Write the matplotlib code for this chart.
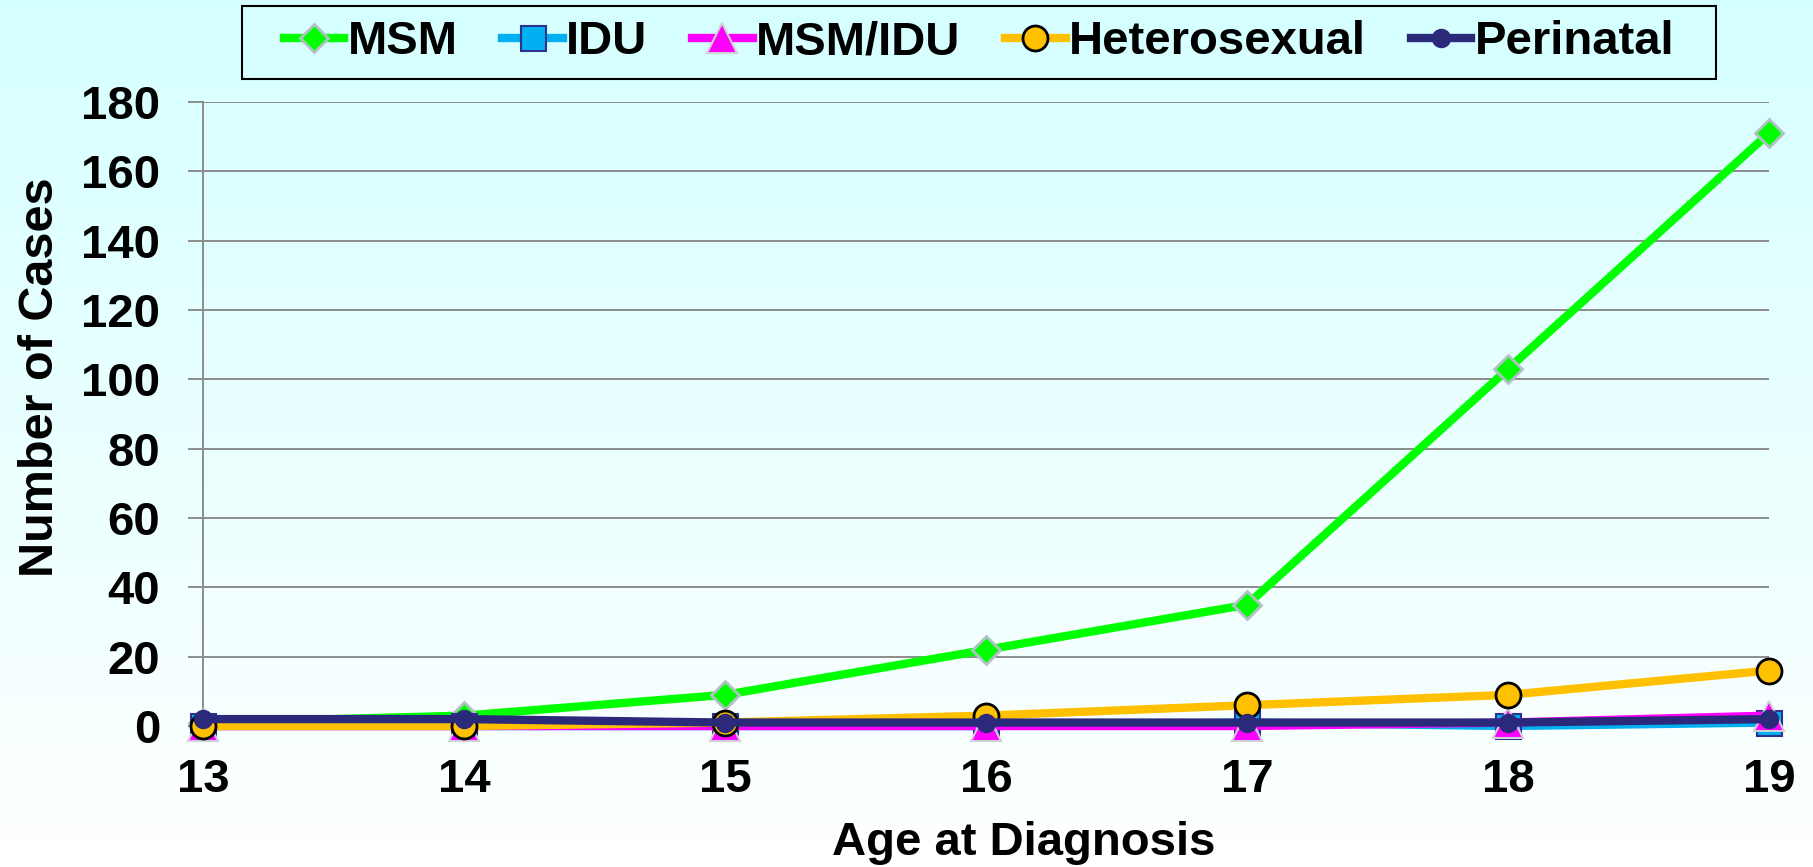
import numpy as np
import matplotlib
matplotlib.use('Agg')
import matplotlib.pyplot as plt
from matplotlib.patches import Rectangle

# dati
ages = [13, 14, 15, 16, 17, 18, 19]
msm = [1, 3, 9, 22, 35, 103, 171]
idu = [0, 0, 0, 0, 1, 0, 1]
msm_idu = [0, 0, 0, 0, 0, 1, 3]
hetero = [0, 0, 1, 3, 6, 9, 16]
perinatal = [2, 2, 1, 1, 1, 1, 2]
y_ticks = [0, 20, 40, 60, 80, 100, 120, 140, 160, 180]

plt.rcParams['font.family'] = ['Liberation Sans', 'DejaVu Sans']
plt.rcParams['font.weight'] = 'bold'

fig = plt.figure(figsize=(18.13, 8.67), dpi=100)

# sfondo sfumato azzurro -> bianco
bg = fig.add_axes([0, 0, 1, 1], zorder=-10)
t = np.linspace(0, 1, 256)
img = np.ones((256, 1, 3))
img[:, 0, 0] = 0.835 + 0.165 * t
bg.imshow(img, aspect='auto', extent=[0, 1, 0, 1])
bg.axis('off')

ax = fig.add_axes([0.1122, 0.1626, 0.8635, 0.7197])
ax.set_facecolor('none')
ax.set_xlim(13, 19)
ax.set_ylim(0, 180)
ax.set_xticks(ages)
ax.set_yticks(y_ticks)
ax.grid(axis='y', color='#8c8c8c', lw=1.4)
ax.set_axisbelow(True)
for s in ['top', 'right', 'bottom']:
    ax.spines[s].set_visible(False)
ax.spines['left'].set_color('#8c8c8c')
ax.spines['left'].set_linewidth(1.4)
ax.tick_params(axis='y', length=11, width=1.4, color='#8c8c8c', pad=20, labelsize=34)
ax.tick_params(axis='x', length=0, pad=23, labelsize=34)

lw = 6
ax.plot(ages, msm, color='#00ff00', lw=lw, marker='D', ms=14, mfc='#00ff00',
        mec='#b4c0c8', mew=2, label='MSM', clip_on=False, zorder=3)
ax.plot(ages, idu, color='#00b0f0', lw=lw, marker='s', ms=18, mfc='#00b0f0',
        mec='#2e3192', mew=1.5, label='IDU', clip_on=False, zorder=4)
ax.plot(ages, msm_idu, color='#ff00ff', lw=lw, marker='^', ms=21, mfc='#ff00ff',
        mec='#d0d0d8', mew=1.5, label='MSM/IDU', clip_on=False, zorder=5)
ax.plot(ages, hetero, color='#ffc000', lw=lw, marker='o', ms=18, mfc='#ffc000',
        mec='black', mew=2, label='Heterosexual', clip_on=False, zorder=6)
ax.plot(ages, perinatal, color='#2b2a7a', lw=lw, marker='o', ms=13, mfc='#2b2a7a',
        mec='#2b2a7a', mew=1, label='Perinatal', clip_on=False, zorder=7)

ax.set_xlabel('Age at Diagnosis', fontsize=34, fontweight='bold')
ax.xaxis.set_label_coords(0.524, -0.152)
ax.set_ylabel('Number of Cases', fontsize=35, fontweight='bold')
ax.yaxis.set_label_coords(-0.09, 0.559)

fig.legend(loc='center', bbox_to_anchor=(0.540, 1 - 42.5 / 867), ncol=5,
           frameon=False, fontsize=34, handlelength=1.28, handletextpad=0.07,
           columnspacing=0.95, borderpad=0.2)
fig.add_artist(Rectangle((242 / 1813, 1 - 79 / 867), 1474 / 1813, 73 / 867,
                         transform=fig.transFigure, fill=False, ec='black', lw=1.5))

fig.savefig('out.png', dpi=100)
